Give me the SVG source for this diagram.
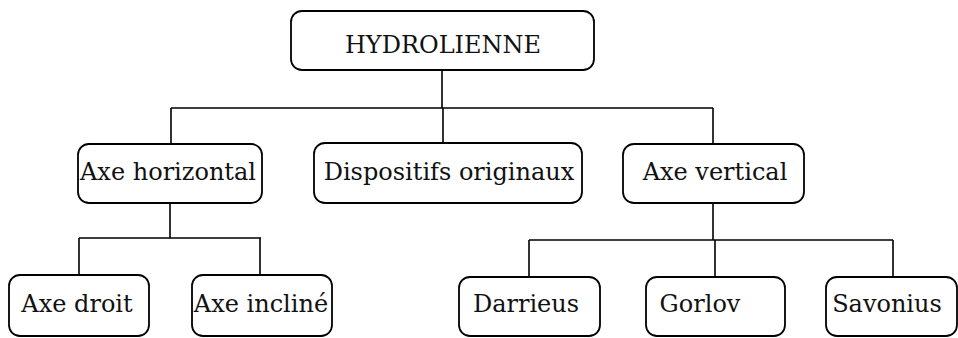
<svg xmlns="http://www.w3.org/2000/svg" width="958" height="338" viewBox="0 0 958 338">
<style>
.box{fill:#fff;stroke:#000;stroke-width:1.8}
.lbl{font-family:"DejaVu Serif","Liberation Serif",serif;font-size:24px;fill:#111;text-anchor:middle}
.con{fill:none;stroke:#000;stroke-width:1.6}
</style>
<rect width="958" height="338" fill="#fff"/>
<g id="connectors">
<path class="con" d="M442 70V108M171 108H713M171 108V144M443 108V143M713 108V144"/>
<path class="con" d="M170 203V238M79 238H261M79 238V275M260 238V275"/>
<path class="con" d="M713 203V240M529 240H893M529 240V277M715 240V277M893 240V277"/>
</g>
<g id="hydrolienne"><rect class="box" x="291" y="11" width="303" height="59" rx="11"/><text class="lbl" x="443" y="53">HYDROLIENNE</text></g>
<g id="axe-horizontal"><rect class="box" x="78" y="144" width="184" height="59" rx="11"/><text class="lbl" x="168" y="180">Axe horizontal</text></g>
<g id="dispositifs"><rect class="box" x="314" y="143" width="268" height="60" rx="11"/><text class="lbl" x="449" y="180">Dispositifs originaux</text></g>
<g id="axe-vertical"><rect class="box" x="623" y="144" width="181" height="59" rx="11"/><text class="lbl" x="715" y="180">Axe vertical</text></g>
<g id="axe-droit"><rect class="box" x="9" y="275" width="140" height="61" rx="11"/><text class="lbl" x="77" y="312">Axe droit</text></g>
<g id="axe-incline"><rect class="box" x="192" y="275" width="140" height="61" rx="11"/><text class="lbl" x="261" y="312">Axe incliné</text></g>
<g id="darrieus"><rect class="box" x="459" y="277" width="141" height="59" rx="11"/><text class="lbl" x="526" y="312">Darrieus</text></g>
<g id="gorlov"><rect class="box" x="646" y="277" width="139" height="59" rx="11"/><text class="lbl" x="700" y="312">Gorlov</text></g>
<g id="savonius"><rect class="box" x="826" y="277" width="131" height="59" rx="11"/><text class="lbl" x="887" y="312">Savonius</text></g>
</svg>
